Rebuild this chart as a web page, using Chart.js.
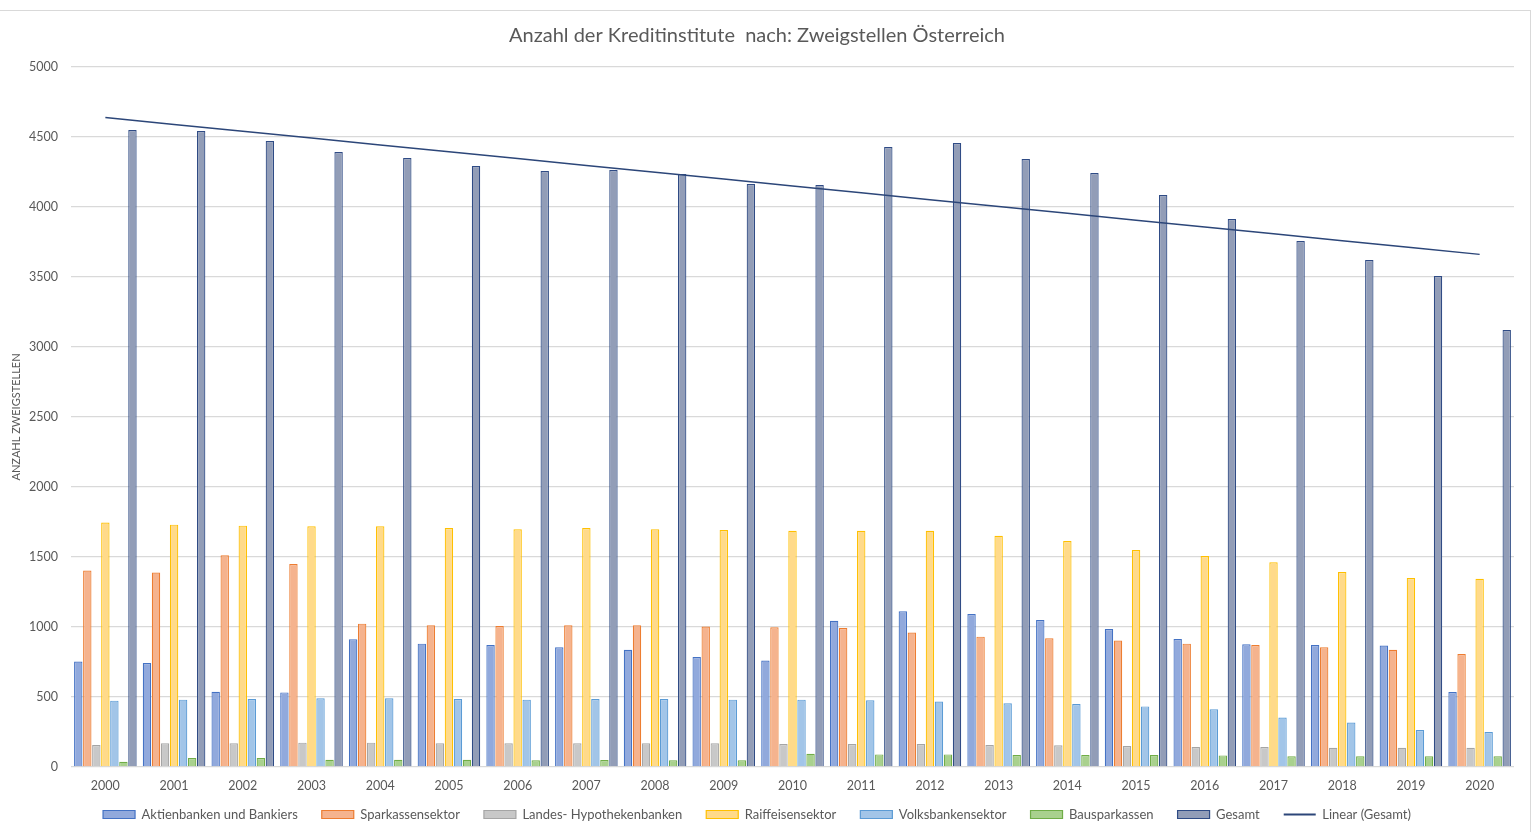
<!DOCTYPE html>
<html lang="de">
<head>
<meta charset="utf-8">
<title>Anzahl der Kreditinstitute nach Zweigstellen</title>
<script src="https://cdn.jsdelivr.net/npm/chart.js@4/dist/chart.umd.min.js"></script>
<style>
    html, body { margin: 0; padding: 0; background: #ffffff; overflow: hidden; }
    .rahmen {
        position: absolute; left: -2px; top: 10px; width: 1532px; height: 830px;
        border-top: 1px solid #d9d9d9; border-right: 1px solid #d9d9d9;
    }
    .chart-box { position: absolute; left: 0; top: 0; width: 1537px; height: 832px; }
</style>
</head>
<body>
<div class="rahmen"></div>
<div class="chart-box"><canvas id="chartZweigstellen"></canvas></div>
<script>
// Daten
const jahre = ['2000', '2001', '2002', '2003', '2004', '2005', '2006', '2007', '2008', '2009', '2010',
    '2011', '2012', '2013', '2014', '2015', '2016', '2017', '2018', '2019', '2020'];

const aktienbanken = [753, 743, 538, 533, 912, 881, 871, 855, 838, 786, 760, 1045, 1112, 1093, 1050, 986, 914, 876, 871, 867, 536];
const sparkassen = [1403, 1389, 1512, 1450, 1024, 1012, 1007, 1012, 1012, 1003, 998, 993, 960, 931, 919, 903, 881, 871, 855, 838, 807];
const landesHypo = [157, 169, 169, 174, 174, 169, 169, 169, 169, 169, 164, 164, 164, 157, 155, 150, 143, 143, 138, 138, 138];
const raiffeisen = [1746, 1731, 1724, 1719, 1719, 1707, 1698, 1707, 1698, 1693, 1688, 1688, 1688, 1652, 1614, 1550, 1507, 1462, 1393, 1350, 1345];
const volksbanken = [474, 481, 486, 491, 491, 486, 481, 486, 486, 481, 481, 476, 467, 455, 450, 433, 412, 353, 317, 264, 250];
const bausparkassen = [38, 64, 64, 52, 52, 52, 48, 50, 48, 48, 95, 90, 90, 86, 86, 86, 83, 76, 76, 76, 76];
const gesamt = [4550, 4543, 4471, 4393, 4350, 4293, 4257, 4264, 4236, 4164, 4157, 4429, 4457, 4343, 4243, 4086, 3914, 3757, 3621, 3507, 3121];

const yTicks = [0, 500, 1000, 1500, 2000, 2500, 3000, 3500, 4000, 4500, 5000];

// Lineare Trendlinie (kleinste Quadrate) über Gesamt
function linearerTrend(werte) {
    const n = werte.length;
    let sx = 0, sy = 0, sxy = 0, sxx = 0;
    werte.forEach((y, i) => {
        const x = i + 1;
        sx += x; sy += y; sxy += x * y; sxx += x * x;
    });
    const steigung = (n * sxy - sx * sy) / (n * sxx - sx * sx);
    const achse = (sy - steigung * sx) / n;
    return werte.map((_, i) => achse + steigung * (i + 1));
}

const farben = {
    aktien: { fill: '#91a9dc', border: '#4472c4' },
    spark: { fill: '#f5b38e', border: '#ed7d31' },
    landes: { fill: '#c8c8c8', border: '#a5a5a5' },
    raiff: { fill: '#ffda8a', border: '#ffc000' },
    volks: { fill: '#a2c5e8', border: '#5b9bd5' },
    bauspar: { fill: '#a9d18e', border: '#70ad47' },
    gesamt: { fill: '#929db7', border: '#2f4b85' },
    trend: '#2c4679'
};

Chart.defaults.font.family = "Lato, 'Open Sans', sans-serif";
Chart.defaults.font.size = 12;
Chart.defaults.color = '#595959';

// Legende etwas nach oben schieben (Abstand wie im Original)
const legendeVerschieben = {
    id: 'legendeVerschieben',
    afterLayout(chart) {
        if (chart.legend) {
            chart.legend.top -= 9;
            chart.legend.bottom -= 9;
        }
    }
};

function balken(label, daten, farbe) {
    return {
        type: 'bar',
        label: label,
        data: daten,
        backgroundColor: farbe.fill,
        borderColor: farbe.border,
        borderWidth: 1.2,
        categoryPercentage: 0.92,
        barPercentage: 0.93,
        order: 2
    };
}

document.addEventListener('DOMContentLoaded', function () {
    const ctx = document.getElementById('chartZweigstellen');
    new Chart(ctx, {
        type: 'bar',
        data: {
            labels: jahre,
            datasets: [
                balken('Aktienbanken und Bankiers', aktienbanken, farben.aktien),
                balken('Sparkassensektor', sparkassen, farben.spark),
                balken('Landes- Hypothekenbanken', landesHypo, farben.landes),
                balken('Raiffeisensektor', raiffeisen, farben.raiff),
                balken('Volksbankensektor', volksbanken, farben.volks),
                balken('Bausparkassen', bausparkassen, farben.bauspar),
                balken('Gesamt', gesamt, farben.gesamt),
                {
                    type: 'line',
                    label: 'Linear (Gesamt)',
                    data: linearerTrend(gesamt),
                    borderColor: farben.trend,
                    backgroundColor: farben.trend,
                    borderWidth: 1.5,
                    pointRadius: 0,
                    tension: 0,
                    order: 1
                }
            ]
        },
        plugins: [legendeVerschieben],
        options: {
            responsive: true,
            maintainAspectRatio: false,
            animation: false,
            layout: {
                padding: { left: 0, right: 23, top: 0, bottom: 0 }
            },
            plugins: {
                title: {
                    display: true,
                    text: 'Anzahl der Kreditinstitute  nach: Zweigstellen Österreich',
                    color: '#595959',
                    font: { size: 20, weight: 'normal' },
                    padding: { top: 24, bottom: 19 }
                },
                legend: {
                    position: 'bottom',
                    maxHeight: 39,
                    labels: {
                        usePointStyle: true,
                        pointStyleWidth: 32,
                        boxHeight: 8,
                        padding: 24,
                        font: { size: 13 },
                        sort: function (a, b) { return a.datasetIndex - b.datasetIndex; },
                        generateLabels: function (chart) {
                            const items = Chart.defaults.plugins.legend.labels.generateLabels(chart);
                            items.forEach(item => {
                                const ds = chart.data.datasets[item.datasetIndex];
                                item.pointStyle = ds.type === 'line' ? 'line' : 'rect';
                                item.lineWidth = ds.type === 'line' ? 2 : 1.2;
                            });
                            return items;
                        }
                    }
                },
                tooltip: { enabled: false }
            },
            scales: {
                x: {
                    grid: { display: false, drawTicks: false },
                    border: { display: false },
                    ticks: { padding: 11, font: { size: 12.5 } },
                    afterFit: function (scale) {
                        scale.height = 26;
                    }
                },
                y: {
                    min: 0,
                    max: 5000,
                    afterBuildTicks: function (scale) {
                        scale.ticks = yTicks.map(v => ({ value: v }));
                    },
                    afterFit: function (scale) {
                        scale.width = 71;
                    },
                    grid: { color: '#d9d9d9', lineWidth: 1.3, drawTicks: false },
                    border: { display: false },
                    ticks: {
                        padding: 13,
                        font: { size: 12.5 },
                        callback: function (value) { return String(value); }
                    },
                    title: {
                        display: true,
                        text: 'ANZAHL ZWEIGSTELLEN',
                        font: { size: 11 },
                        padding: { top: 10, bottom: 0 }
                    }
                }
            }
        }
    });
});
</script>
</body>
</html>
